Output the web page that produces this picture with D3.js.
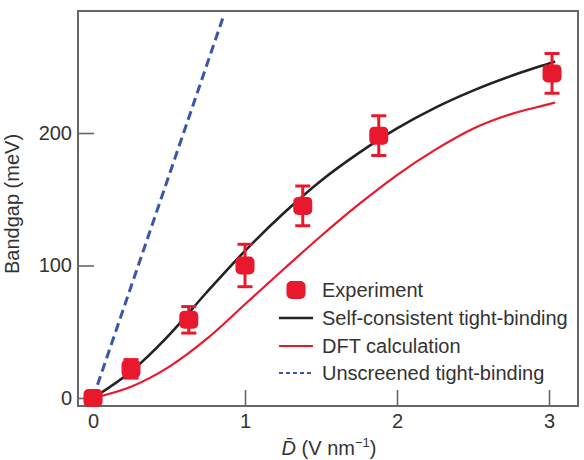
<!DOCTYPE html>
<html>
<head>
<meta charset="utf-8">
<script src="https://cdn.jsdelivr.net/npm/d3@7"></script>
<style>
  html, body { margin: 0; padding: 0; background: #fff; }
  svg { display: block; font-family: "Liberation Sans", Arial, Helvetica, sans-serif; }
</style>
</head>
<body>
<svg id="chart" width="584" height="460"></svg>
<script>
// ---- data ----
const expX   = [0, 0.25, 0.63, 1.0, 1.38, 1.88, 3.02];
const expY   = [0, 22, 59, 100, 145, 198, 245];
const expErr = [0, 7, 10, 16, 15, 15, 15];

const curveX = [0, 0.25, 0.5, 0.75, 1.0, 1.25, 1.5, 1.75, 2.0, 2.25, 2.5, 2.75, 3.0, 3.04];
const scY  = [0, 20, 47.5, 80, 111, 139, 164, 185, 203.5, 219, 232, 243, 252.5, 254];
const dftY = [0, 8.5, 23.5, 44.75, 70.75, 96.75, 122.25, 146.25, 168.25, 187.25, 203.25, 214.25, 221.75, 223];

const unX = [0, 0.855];
const unY = [0, 287];

const xTicks = [0, 1, 2, 3];
const yTicks = [0, 100, 200];

const legendLabels = ["Experiment", "Self-consistent tight-binding", "DFT calculation", "Unscreened tight-binding"];

// ---- layout ----
const frame = { left: 78, right: 578, top: 11, bottom: 406 };
const RED = "#e8192c", BLACK = "#222", BLUE = "#3b55a8", GRAY = "#666", TXT = "#333";
const FS = 20;

const x = d3.scaleLinear().domain([0, 3]).range([93, 549]);
const y = d3.scaleLinear().domain([0, 200]).range([398, 133]);

const svg = d3.select("#chart");

svg.append("defs").append("clipPath").attr("id", "clip")
  .append("rect").attr("x", frame.left).attr("y", frame.top)
  .attr("width", frame.right - frame.left).attr("height", frame.bottom - frame.top);

// axes
const xAxis = d3.axisBottom(x).tickValues(xTicks).tickSize(-16).tickPadding(8).tickFormat(d3.format("d"));
const gx = svg.append("g").attr("transform", `translate(0,${frame.bottom})`).call(xAxis);
const yAxis = d3.axisLeft(y).tickValues(yTicks).tickSize(-16).tickPadding(6).tickFormat(d3.format("d"));
const gy = svg.append("g").attr("transform", `translate(${frame.left},0)`).call(yAxis);
[gx, gy].forEach(g => {
  g.select(".domain").remove();
  g.selectAll(".tick line").attr("stroke", GRAY).attr("stroke-width", 1.6);
  g.selectAll(".tick text").attr("fill", TXT).attr("font-size", FS)
    .attr("font-family", "'Liberation Sans', Arial, sans-serif");
});

// frame
svg.append("rect").attr("x", frame.left).attr("y", frame.top)
  .attr("width", frame.right - frame.left).attr("height", frame.bottom - frame.top)
  .attr("fill", "none").attr("stroke", GRAY).attr("stroke-width", 2);

const plot = svg.append("g").attr("clip-path", "url(#clip)");
const line = d3.line().x(d => x(d[0])).y(d => y(d[1])).curve(d3.curveMonotoneX);
const straight = d3.line().x(d => x(d[0])).y(d => y(d[1]));

plot.append("path").datum(d3.zip(unX, unY)).attr("d", straight)
  .attr("fill", "none").attr("stroke", BLUE).attr("stroke-width", 3)
  .attr("stroke-dasharray", "9,5");
plot.append("path").datum(d3.zip(curveX, dftY)).attr("d", line)
  .attr("fill", "none").attr("stroke", RED).attr("stroke-width", 2.2);
plot.append("path").datum(d3.zip(curveX, scY)).attr("d", line)
  .attr("fill", "none").attr("stroke", BLACK).attr("stroke-width", 2.6);

// experiment
const pts = expX.map((v, i) => ({ x: v, y: expY[i], e: expErr[i] }));
const eb = plot.append("g").selectAll("g").data(pts.filter(d => d.e > 0)).join("g")
  .attr("stroke", RED).attr("stroke-width", 3);
eb.append("line").attr("x1", d => x(d.x)).attr("x2", d => x(d.x))
  .attr("y1", d => y(d.y + d.e)).attr("y2", d => y(d.y - d.e));
eb.append("line").attr("x1", d => x(d.x) - 7.5).attr("x2", d => x(d.x) + 7.5)
  .attr("y1", d => y(d.y + d.e)).attr("y2", d => y(d.y + d.e));
eb.append("line").attr("x1", d => x(d.x) - 7.5).attr("x2", d => x(d.x) + 7.5)
  .attr("y1", d => y(d.y - d.e)).attr("y2", d => y(d.y - d.e));
svg.append("g").selectAll("rect").data(pts).join("rect")
  .attr("x", d => x(d.x) - 9.5).attr("y", d => y(d.y) - 9)
  .attr("width", 19).attr("height", 18).attr("rx", 5)
  .attr("fill", RED);

// legend
const leg = svg.append("g");
const lx0 = 279, lx1 = 313, tx = 322, rows = [290, 318, 346, 373];
leg.append("rect").attr("x", 296 - 9.5).attr("y", rows[0] - 9)
  .attr("width", 19).attr("height", 18).attr("rx", 5).attr("fill", RED);
leg.append("line").attr("x1", lx0).attr("x2", lx1).attr("y1", rows[1]).attr("y2", rows[1])
  .attr("stroke", BLACK).attr("stroke-width", 2.6);
leg.append("line").attr("x1", lx0).attr("x2", lx1).attr("y1", rows[2]).attr("y2", rows[2])
  .attr("stroke", RED).attr("stroke-width", 2.2);
leg.append("line").attr("x1", lx0).attr("x2", lx1).attr("y1", rows[3]).attr("y2", rows[3])
  .attr("stroke", BLUE).attr("stroke-width", 2).attr("stroke-dasharray", "4,3");
leg.selectAll("text").data(legendLabels).join("text")
  .attr("x", tx).attr("y", (d, i) => rows[i]).attr("dy", "0.35em")
  .attr("font-size", FS).attr("fill", TXT).text(d => d);

// axis titles
svg.append("text").attr("transform", "translate(19,204) rotate(-90)")
  .attr("text-anchor", "middle").attr("font-size", FS).attr("fill", TXT)
  .text("Bandgap (meV)");
const xt = svg.append("text").attr("x", 329).attr("y", 455)
  .attr("text-anchor", "middle").attr("font-size", FS).attr("fill", TXT);
xt.append("tspan").attr("font-style", "italic").text("D\u0304");
xt.append("tspan").text(" (V nm");
xt.append("tspan").attr("font-size", 13).attr("dy", -8).text("\u22121");
xt.append("tspan").attr("dy", 8).text(")");
</script>
</body>
</html>
